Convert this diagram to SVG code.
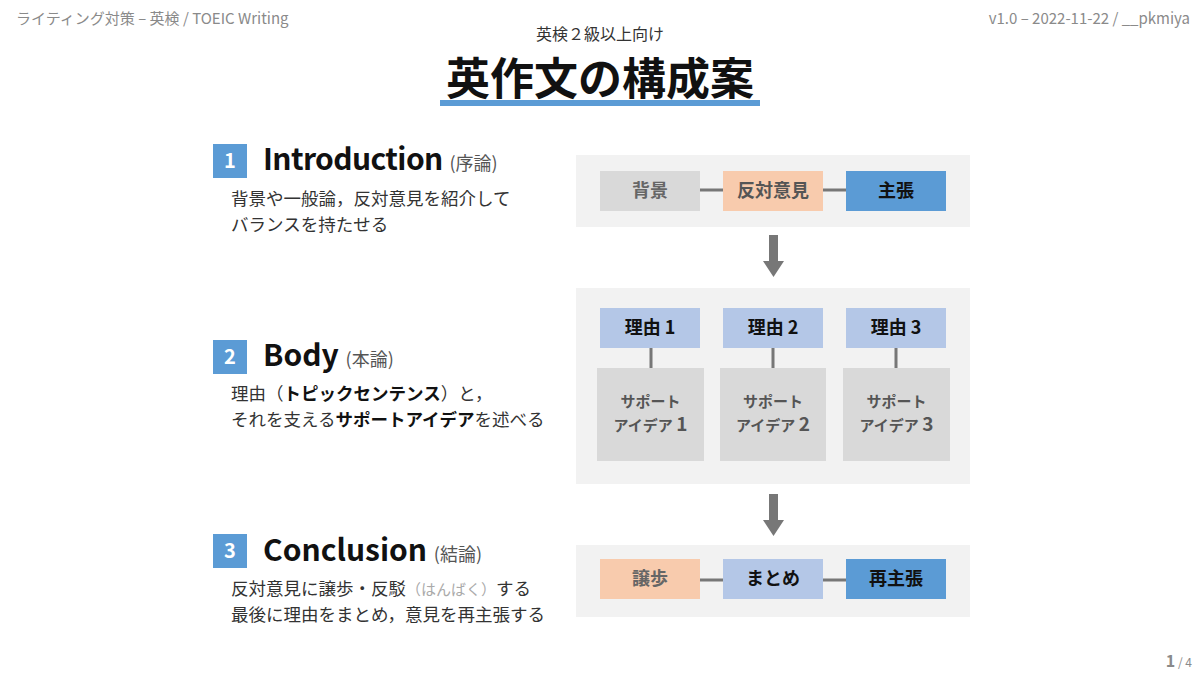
<svg xmlns="http://www.w3.org/2000/svg" width="1200" height="675" viewBox="0 0 1200 675">
  <style>
    text { font-family: "Noto Sans CJK JP", "Noto Sans", sans-serif; }
    .hdr { font-size: 15px; fill: #8a8a8a; }
    .panel { fill: #F2F2F2; }
    .gray { fill: #D9D9D9; }
    .peach { fill: #F8CBAD; }
    .lblue { fill: #B4C7E7; }
    .blue { fill: #5B9BD5; }
    .lbl { font-size: 18px; font-weight: bold; text-anchor: middle; }
    .sup { font-size: 15px; font-weight: bold; text-anchor: middle; fill: #555555; }
    .dim { fill: #666666; }
    .dark { fill: #111111; }
    .num { font-size: 20px; font-weight: bold; fill: #ffffff; text-anchor: middle; }
    .ttl { font-size: 30px; font-weight: bold; fill: #111111; }
    .sub { font-size: 18px; fill: #555555; font-weight: normal; letter-spacing: 0; }
    .desc { font-size: 17.5px; fill: #333333; }
    .b { font-weight: bold; fill: #111111; }
    .link { stroke: #777777; stroke-width: 3; fill: none; }
    .flow { fill: #777777; }
  </style>

  <!-- page header -->
  <text class="hdr" x="16" y="24">ライティング対策 – 英検 / TOEIC Writing</text>
  <text class="hdr" x="1190" y="24" text-anchor="end">v1.0 – 2022-11-22 / __pkmiya</text>

  <!-- title -->
  <text x="600" y="40" font-size="16" fill="#333" text-anchor="middle">英検２級以上向け</text>
  <rect x="440" y="100" width="320" height="6" class="blue"/>
  <text x="600" y="95" font-size="44" font-weight="bold" fill="#111" text-anchor="middle">英作文の構成案</text>

  <!-- section headings -->
  <g id="sec-intro">
    <rect x="213" y="144" width="34" height="34" class="blue"/>
    <text class="num" x="230" y="168">1</text>
    <text class="ttl" x="263" y="170"><tspan letter-spacing="-0.6">Introduction</tspan> <tspan class="sub">(序論)</tspan></text>
    <text class="desc" x="231" y="205">背景や一般論，反対意見を紹介して</text>
    <text class="desc" x="231" y="231">バランスを持たせる</text>
  </g>
  <g id="sec-body">
    <rect x="213" y="340" width="34" height="34" class="blue"/>
    <text class="num" x="230" y="364">2</text>
    <text class="ttl" x="263" y="366">Body <tspan class="sub">(本論)</tspan></text>
    <text class="desc" x="231" y="400">理由（<tspan class="b">トピックセンテンス</tspan>）と，</text>
    <text class="desc" x="231" y="426">それを支える<tspan class="b">サポートアイデア</tspan>を述べる</text>
  </g>
  <g id="sec-conclusion">
    <rect x="213" y="534" width="34" height="34" class="blue"/>
    <text class="num" x="230" y="558">3</text>
    <text class="ttl" x="263" y="561">Conclusion <tspan class="sub">(結論)</tspan></text>
    <text class="desc" x="231" y="595">反対意見に譲歩・反駁<tspan fill="#aaaaaa" font-size="15">（はんばく）</tspan>する</text>
    <text class="desc" x="231" y="621">最後に理由をまとめ，意見を再主張する</text>
  </g>

  <!-- panels -->
  <rect id="panel-intro" class="panel" x="576" y="155" width="394" height="72"/>
  <rect id="panel-body" class="panel" x="576" y="288" width="394" height="196"/>
  <rect id="panel-conclusion" class="panel" x="576" y="545" width="394" height="72"/>

  <!-- connectors -->
  <g id="connectors">
    <line class="link" x1="700" y1="190" x2="723" y2="190"/>
    <line class="link" x1="823" y1="190" x2="846" y2="190"/>
    <line class="link" x1="651" y1="348" x2="651" y2="368"/>
    <line class="link" x1="773" y1="348" x2="773" y2="368"/>
    <line class="link" x1="896" y1="348" x2="896" y2="368"/>
    <line class="link" x1="700" y1="580" x2="723" y2="580"/>
    <line class="link" x1="823" y1="580" x2="846" y2="580"/>
    <path class="flow" d="M769 235 H778 V261 H784 L773.5 277 L763 261 H769 Z"/>
    <path class="flow" d="M769 494 H778 V520 H784 L773.5 536 L763 520 H769 Z"/>
  </g>

  <!-- introduction row -->
  <g id="n-haikei">
    <rect class="gray" x="600" y="171" width="100" height="40"/>
    <text class="lbl dim" x="650" y="197">背景</text>
  </g>
  <g id="n-hantai">
    <rect class="peach" x="723" y="171" width="100" height="40"/>
    <text class="lbl" fill="#555" x="773" y="197">反対意見</text>
  </g>
  <g id="n-shucho">
    <rect class="blue" x="846" y="171" width="100" height="40"/>
    <text class="lbl dark" x="896" y="197" font-size="19">主張</text>
  </g>

  <!-- body reasons -->
  <g id="n-riyu1">
    <rect class="lblue" x="600" y="308" width="100" height="40"/>
    <text class="lbl dark" x="650" y="334">理由 1</text>
  </g>
  <g id="n-riyu2">
    <rect class="lblue" x="723" y="308" width="100" height="40"/>
    <text class="lbl dark" x="773" y="334">理由 2</text>
  </g>
  <g id="n-riyu3">
    <rect class="lblue" x="846" y="308" width="100" height="40"/>
    <text class="lbl dark" x="896" y="334">理由 3</text>
  </g>

  <!-- body support ideas -->
  <g id="n-support1">
    <rect class="gray" x="597" y="368" width="107" height="93"/>
    <text class="sup" x="650.5" y="407">サポート</text>
    <text class="sup" x="650.5" y="431">アイデア <tspan font-size="19">1</tspan></text>
  </g>
  <g id="n-support2">
    <rect class="gray" x="720" y="368" width="106" height="93"/>
    <text class="sup" x="773" y="407">サポート</text>
    <text class="sup" x="773" y="431">アイデア <tspan font-size="19">2</tspan></text>
  </g>
  <g id="n-support3">
    <rect class="gray" x="843" y="368" width="107" height="93"/>
    <text class="sup" x="896.5" y="407">サポート</text>
    <text class="sup" x="896.5" y="431">アイデア <tspan font-size="19">3</tspan></text>
  </g>

  <!-- conclusion row -->
  <g id="n-joho">
    <rect class="peach" x="600" y="559" width="100" height="40"/>
    <text class="lbl dim" x="650" y="585">譲歩</text>
  </g>
  <g id="n-matome">
    <rect class="lblue" x="723" y="559" width="100" height="40"/>
    <text class="lbl dark" x="773" y="585">まとめ</text>
  </g>
  <g id="n-saishucho">
    <rect class="blue" x="846" y="559" width="100" height="40"/>
    <text class="lbl dark" x="896" y="585" font-size="19">再主張</text>
  </g>

  <!-- page number -->
  <text x="1192" y="667" text-anchor="end" fill="#8a8a8a" font-size="16" font-weight="bold">1<tspan font-size="12" font-weight="normal"> / 4</tspan></text>
</svg>
